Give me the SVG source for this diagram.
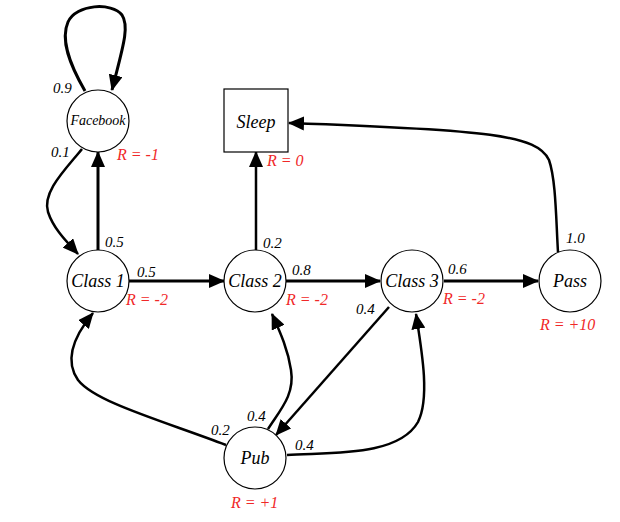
<svg xmlns="http://www.w3.org/2000/svg" width="620" height="522" viewBox="0 0 620 522">
<style>
.node{fill:#fff;stroke:#000;stroke-width:1.2}
text{font-family:'Liberation Serif','Times New Roman','DejaVu Serif',serif;font-style:italic}
.lbl{font-size:18px;fill:#000;text-anchor:middle}
.p{font-size:15px;fill:#000}
.r{font-size:16px;fill:#f02828}
.e{fill:none;stroke:#000;stroke-width:3;marker-end:url(#ah)}
.e2{fill:none;stroke:#000;stroke-width:2.5;marker-end:url(#ah)}
</style>
<defs>
<marker id="ah" markerUnits="userSpaceOnUse" markerWidth="16" markerHeight="14" refX="15" refY="7" orient="auto" viewBox="0 0 16 14">
<path d="M0,0 L16,7 L0,14 Z" fill="#000"/>
</marker>
</defs>
<rect width="620" height="522" fill="#fff"/>
<g id="connectors">
<path class="e" d="M85,91 C70,65 60,40 68,22 C76,4 112,2 122,15 C130,27 122,50 112,90"/>
<path class="e2" d="M82,149 C65,170 42,192 48,212 C54,230 68,243 78,254"/>
<path class="e" d="M98,250 L98,152"/>
<path class="e" d="M129,281 L224,281"/>
<path class="e2" d="M256,250 L256,152"/>
<path class="e" d="M286,281 L380,281"/>
<path class="e" d="M444,281 L538,281"/>
<path class="e2" d="M558,252 C556,220 556,180 549,160 C537,135 490,130 289,123"/>
<path class="e2" d="M389,307 L276,435"/>
<path class="e2" d="M287,455 C330,452 398,457 418,422 C430,398 422,352 416,314"/>
<path class="e2" d="M268,429 C280,410 295,395 291,370 C288,350 281,334 272,314"/>
<path class="e2" d="M226,445 C160,420 95,402 78,380 C64,360 74,336 93,313"/>
</g>
<g id="facebook">
<circle class="node" cx="98" cy="121" r="31"/>
<text class="lbl" x="98" y="125" style="font-size:14px">Facebook</text>
<text class="r" x="117" y="160">R = -1</text>
</g>
<g id="sleep">
<rect class="node" x="224" y="89" width="64" height="63"/>
<text class="lbl" x="256" y="128">Sleep</text>
<text class="r" x="267" y="166">R = 0</text>
</g>
<g id="class1">
<circle class="node" cx="98" cy="281" r="31"/>
<text class="lbl" x="98" y="287">Class 1</text>
<text class="r" x="126" y="305">R = -2</text>
</g>
<g id="class2">
<circle class="node" cx="255" cy="281" r="31"/>
<text class="lbl" x="255" y="287">Class 2</text>
<text class="r" x="286" y="305">R = -2</text>
</g>
<g id="class3">
<circle class="node" cx="412" cy="281" r="31"/>
<text class="lbl" x="412" y="287">Class 3</text>
<text class="r" x="443" y="304">R = -2</text>
</g>
<g id="pass">
<circle class="node" cx="570" cy="281" r="31"/>
<text class="lbl" x="570" y="287">Pass</text>
<text class="r" x="540" y="330">R = +10</text>
</g>
<g id="pub">
<circle class="node" cx="255" cy="458" r="31"/>
<text class="lbl" x="255" y="464">Pub</text>
<text class="r" x="231" y="508">R = +1</text>
</g>
<g id="probabilities">
<text class="p" x="53" y="93">0.9</text>
<text class="p" x="51" y="157">0.1</text>
<text class="p" x="105" y="247">0.5</text>
<text class="p" x="137" y="277">0.5</text>
<text class="p" x="263" y="248">0.2</text>
<text class="p" x="292" y="275">0.8</text>
<text class="p" x="448" y="274">0.6</text>
<text class="p" x="566" y="243">1.0</text>
<text class="p" x="356" y="314">0.4</text>
<text class="p" x="247" y="421">0.4</text>
<text class="p" x="211" y="435">0.2</text>
<text class="p" x="295" y="450">0.4</text>
</g>
</svg>
